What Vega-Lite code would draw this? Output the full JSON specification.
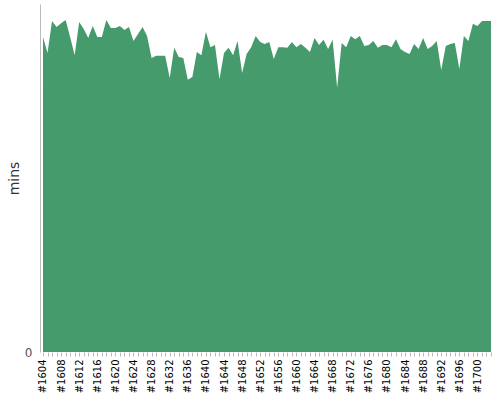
{
  "$schema": "https://vega.github.io/schema/vega-lite/v6.json",
  "width": 454,
  "height": 348,
  "autosize": {"type": "none"},
  "padding": {"left": 40, "top": 4, "right": 6, "bottom": 48},
  "background": "white",
  "config": {"view": {"stroke": null}},
  "data": {"values": [
    {"build": "#1604", "mins": 90.5}, {"build": "#1605", "mins": 85.9}, {"build": "#1606", "mins": 95.1}, {"build": "#1607", "mins": 93.4},
    {"build": "#1608", "mins": 94.5}, {"build": "#1609", "mins": 95.4}, {"build": "#1610", "mins": 90.5}, {"build": "#1611", "mins": 85.3},
    {"build": "#1612", "mins": 94.8}, {"build": "#1613", "mins": 92.8}, {"build": "#1614", "mins": 90.2}, {"build": "#1615", "mins": 93.7},
    {"build": "#1616", "mins": 90.5}, {"build": "#1617", "mins": 90.5}, {"build": "#1618", "mins": 95.4}, {"build": "#1619", "mins": 93.1},
    {"build": "#1620", "mins": 93.1}, {"build": "#1621", "mins": 93.7}, {"build": "#1622", "mins": 92.5}, {"build": "#1623", "mins": 93.4},
    {"build": "#1624", "mins": 89.4}, {"build": "#1625", "mins": 91.4}, {"build": "#1626", "mins": 93.4}, {"build": "#1627", "mins": 90.8},
    {"build": "#1628", "mins": 84.5}, {"build": "#1629", "mins": 85.1}, {"build": "#1630", "mins": 85.1}, {"build": "#1631", "mins": 85.1},
    {"build": "#1632", "mins": 78.7}, {"build": "#1633", "mins": 87.4}, {"build": "#1634", "mins": 84.8}, {"build": "#1635", "mins": 84.5},
    {"build": "#1636", "mins": 78.2}, {"build": "#1637", "mins": 79.0}, {"build": "#1638", "mins": 86.2}, {"build": "#1639", "mins": 85.3},
    {"build": "#1640", "mins": 92.0}, {"build": "#1641", "mins": 87.6}, {"build": "#1642", "mins": 88.2}, {"build": "#1643", "mins": 78.4},
    {"build": "#1644", "mins": 85.9}, {"build": "#1645", "mins": 87.4}, {"build": "#1646", "mins": 85.3}, {"build": "#1647", "mins": 89.4},
    {"build": "#1648", "mins": 80.2}, {"build": "#1649", "mins": 85.6}, {"build": "#1650", "mins": 87.6}, {"build": "#1651", "mins": 90.8},
    {"build": "#1652", "mins": 89.1}, {"build": "#1653", "mins": 88.5}, {"build": "#1654", "mins": 89.1}, {"build": "#1655", "mins": 84.2},
    {"build": "#1656", "mins": 87.6}, {"build": "#1657", "mins": 87.6}, {"build": "#1658", "mins": 87.4}, {"build": "#1659", "mins": 89.1},
    {"build": "#1660", "mins": 87.6}, {"build": "#1661", "mins": 88.5}, {"build": "#1662", "mins": 87.4}, {"build": "#1663", "mins": 86.2},
    {"build": "#1664", "mins": 90.2}, {"build": "#1665", "mins": 88.2}, {"build": "#1666", "mins": 89.7}, {"build": "#1667", "mins": 87.1},
    {"build": "#1668", "mins": 89.7}, {"build": "#1669", "mins": 75.9}, {"build": "#1670", "mins": 88.8}, {"build": "#1671", "mins": 87.6},
    {"build": "#1672", "mins": 90.8}, {"build": "#1673", "mins": 89.9}, {"build": "#1674", "mins": 90.8}, {"build": "#1675", "mins": 87.9},
    {"build": "#1676", "mins": 88.2}, {"build": "#1677", "mins": 89.4}, {"build": "#1678", "mins": 87.4}, {"build": "#1679", "mins": 88.2},
    {"build": "#1680", "mins": 88.2}, {"build": "#1681", "mins": 87.6}, {"build": "#1682", "mins": 89.9}, {"build": "#1683", "mins": 87.1},
    {"build": "#1684", "mins": 86.2}, {"build": "#1685", "mins": 85.6}, {"build": "#1686", "mins": 88.5}, {"build": "#1687", "mins": 87.1},
    {"build": "#1688", "mins": 90.2}, {"build": "#1689", "mins": 87.1}, {"build": "#1690", "mins": 87.9}, {"build": "#1691", "mins": 89.4},
    {"build": "#1692", "mins": 81.0}, {"build": "#1693", "mins": 87.9}, {"build": "#1694", "mins": 88.5}, {"build": "#1695", "mins": 88.8},
    {"build": "#1696", "mins": 81.3}, {"build": "#1697", "mins": 90.8}, {"build": "#1698", "mins": 89.4}, {"build": "#1699", "mins": 94.3},
    {"build": "#1700", "mins": 93.7}, {"build": "#1701", "mins": 95.1}, {"build": "#1702", "mins": 95.1}, {"build": "#1703", "mins": 95.1}
  ]},
  "mark": {"type": "area", "color": "#459b6c", "opacity": 1},
  "encoding": {
    "x": {
      "field": "build",
      "type": "ordinal",
      "sort": null,
      "scale": {"type": "point", "padding": 0.66},
      "axis": {
        "title": null,
        "labelAngle": -90,
        "labelExpr": "(toNumber(slice(datum.value, 1)) - 1604) % 4 === 0 ? datum.value : ''",
        "labelFont": "DejaVu Sans",
        "labelFontSize": 10,
        "labelColor": "#000",
        "labelPadding": 3,
        "domain": false,
        "ticks": true,
        "tickSize": 4,
        "tickColor": "#bbb",
        "labelOverlap": false,
        "grid": false
      }
    },
    "y": {
      "field": "mins",
      "type": "quantitative",
      "scale": {"domain": [0, 100], "nice": false},
      "axis": {
        "title": "mins",
        "titleFont": "DejaVu Sans",
        "titleFontSize": 14,
        "titleFontWeight": "normal",
        "titleColor": "#333",
        "titlePadding": 3,
        "values": [0],
        "labelFont": "DejaVu Sans",
        "labelFontSize": 12,
        "labelColor": "#555",
        "labelPadding": 8,
        "ticks": false,
        "domain": true,
        "domainColor": "#bbb",
        "grid": false
      }
    }
  }
}
